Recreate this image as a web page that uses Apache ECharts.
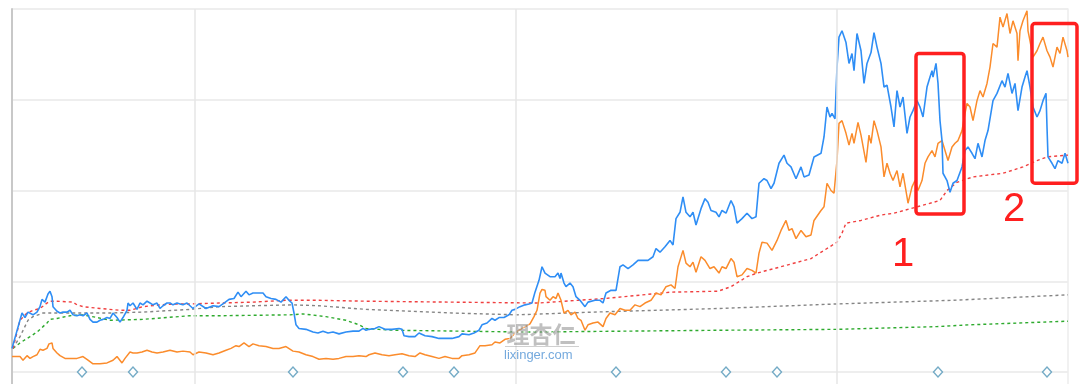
<!DOCTYPE html>
<html><head><meta charset="utf-8">
<script src="https://cdn.jsdelivr.net/npm/echarts@6/dist/echarts.min.js"></script>
<style>html,body{margin:0;padding:0;background:#fff;overflow:hidden;width:1080px;height:384px}#c{width:1080px;height:470px}</style>
</head><body><div id="c"></div>
<script>
// x = trading-day index, y = relative value (gridlines every 100)
const blueSeries = [[0,26],[10,65],[13,60],[16,66],[21,63],[25,66],[28,72],[30,80],[33,77],[35,79],[36,86],[38,89],[40,83],[41,72],[45,67],[48,65],[51,66],[55,66],[58,68],[61,63],[65,62],[68,63],[71,62],[75,65],[78,58],[81,55],[85,55],[88,57],[91,58],[95,60],[98,59],[101,65],[105,60],[108,55],[111,60],[115,68],[116,76],[118,73],[121,76],[125,69],[128,76],[131,74],[135,78],[138,76],[141,74],[145,76],[148,70],[151,73],[155,76],[158,76],[161,74],[165,76],[168,75],[171,74],[175,76],[178,73],[181,70],[187,75],[194,70],[201,73],[207,72],[212,76],[217,80],[222,81],[226,88],[229,83],[234,89],[237,85],[241,87],[246,87],[251,87],[254,83],[259,81],[264,80],[269,77],[274,83],[277,79],[280,76],[282,65],[284,52],[287,48],[294,47],[301,44],[306,43],[311,45],[316,43],[321,44],[327,42],[334,44],[341,45],[347,45],[351,48],[354,46],[357,47],[363,48],[367,50],[373,47],[380,47],[387,48],[390,47],[392,40],[397,39],[403,39],[407,43],[413,40],[420,39],[427,37],[433,37],[440,37],[447,39],[450,42],[457,41],[462,43],[467,46],[470,52],[475,54],[480,59],[483,57],[487,60],[492,60],[497,63],[500,68],[503,69],[508,72],[513,74],[517,75],[520,76],[523,88],[527,101],[530,116],[533,109],[538,105],[543,105],[546,109],[548,103],[549,109],[552,98],[554,94],[558,98],[561,94],[564,83],[568,79],[573,72],[576,77],[583,79],[588,79],[591,76],[594,87],[599,90],[604,90],[608,116],[611,118],[616,114],[621,118],[626,123],[631,123],[636,123],[641,127],[644,136],[648,132],[653,138],[658,145],[661,140],[664,169],[668,176],[671,193],[674,176],[678,171],[681,176],[684,162],[689,180],[693,191],[696,187],[699,178],[704,176],[707,171],[710,178],[714,175],[719,189],[722,182],[725,164],[730,169],[735,175],[740,169],[744,171],[747,208],[752,213],[755,211],[759,202],[762,208],[767,230],[772,239],[775,230],[779,226],[784,213],[789,226],[792,215],[797,217],[802,237],[809,241],[812,259],[815,292],[818,281],[820,285],[823,279],[825,336],[827,369],[830,376],[834,363],[837,340],[840,351],[842,332],[845,373],[849,354],[852,318],[855,340],[859,352],[862,374],[865,358],[869,340],[872,314],[875,316],[879,292],[882,270],[885,310],[888,292],[891,303],[895,263],[898,281],[901,288],[905,299],[908,292],[911,281],[915,314],[918,325],[920,332],[921,325],[924,340],[926,318],[928,277],[930,255],[931,219],[935,211],[938,198],[941,208],[945,211],[950,226],[953,244],[956,248],[960,241],[963,235],[966,252],[970,237],[973,255],[976,266],[981,299],[985,307],[990,321],[993,314],[996,329],[1000,307],[1003,318],[1006,288],[1010,314],[1013,325],[1015,332],[1018,314],[1021,292],[1025,281],[1028,288],[1031,299],[1034,307],[1035,270],[1036,237],[1040,230],[1043,224],[1046,233],[1050,230],[1053,241],[1056,230]];

const orangeSeries = [[0,17],[8,17],[11,13],[15,18],[18,15],[21,17],[25,19],[28,25],[31,24],[35,26],[37,31],[40,32],[41,26],[45,21],[48,18],[53,15],[58,15],[65,15],[71,17],[76,13],[81,9],[88,9],[95,10],[101,13],[105,17],[110,10],[113,15],[118,22],[121,21],[125,21],[130,22],[135,24],[140,22],[145,21],[151,22],[158,24],[165,22],[171,23],[178,22],[181,19],[187,22],[194,21],[201,19],[207,21],[214,24],[219,26],[224,29],[227,28],[232,32],[237,28],[241,31],[247,29],[254,28],[261,26],[267,26],[274,28],[281,23],[287,22],[294,19],[301,17],[307,14],[314,15],[321,14],[327,15],[334,17],[341,17],[347,18],[354,17],[357,19],[363,21],[370,19],[377,18],[383,19],[390,20],[397,18],[403,17],[408,21],[413,19],[420,17],[427,15],[433,17],[440,15],[447,15],[450,18],[457,19],[463,21],[468,29],[473,29],[480,30],[483,33],[488,32],[493,36],[498,37],[503,43],[510,48],[515,51],[518,53],[522,61],[525,68],[528,87],[530,91],[533,90],[534,83],[538,79],[541,83],[544,81],[546,87],[549,79],[552,65],[556,68],[559,63],[563,66],[566,59],[569,57],[573,46],[576,52],[581,54],[586,55],[591,50],[594,59],[598,65],[603,63],[608,70],[613,68],[618,68],[623,74],[628,72],[633,76],[639,79],[644,87],[649,85],[654,94],[659,96],[663,92],[666,116],[671,134],[674,120],[678,116],[681,121],[684,110],[689,127],[693,123],[698,114],[702,116],[707,109],[710,116],[714,114],[719,125],[722,121],[725,105],[730,107],[735,114],[740,112],[744,109],[747,131],[750,143],[755,142],[760,134],[765,145],[769,156],[774,167],[777,156],[780,158],[784,147],[789,156],[794,149],[799,151],[802,167],[809,178],[812,182],[815,208],[819,200],[822,197],[825,233],[827,274],[830,277],[834,263],[837,250],[840,263],[842,252],[846,275],[849,261],[854,231],[857,261],[859,252],[862,277],[865,266],[869,248],[872,215],[875,230],[878,219],[881,211],[885,222],[888,204],[891,219],[895,193],[896,186],[900,204],[903,211],[906,200],[910,211],[913,230],[916,237],[920,244],[923,237],[926,252],[930,255],[933,244],[936,233],[940,248],[943,252],[946,255],[950,266],[953,285],[955,296],[958,292],[961,277],[965,299],[968,310],[971,303],[975,318],[978,336],[981,362],[985,358],[988,391],[991,380],[995,395],[998,373],[1001,387],[1005,373],[1006,343],[1008,376],[1011,387],[1015,398],[1016,376],[1018,365],[1021,347],[1025,354],[1028,362],[1031,369],[1035,354],[1038,347],[1041,336],[1045,358],[1048,351],[1051,369],[1055,354],[1056,347]];

const redDotted = [[1,26],[8,57],[15,65],[21,68],[28,70],[35,76],[38,78],[45,78],[61,77],[65,74],[71,72],[88,70],[108,68],[118,68],[131,72],[148,74],[165,75],[178,75],[207,76],[241,77],[274,79],[307,79],[354,78],[438,77],[526,76],[593,81],[659,88],[706,89],[719,94],[735,105],[745,109],[769,116],[799,125],[812,134],[825,143],[830,153],[834,164],[849,167],[869,173],[882,175],[905,182],[928,189],[935,200],[945,209],[961,215],[991,219],[1011,226],[1025,233],[1035,237],[1056,239]];

const grayDotted = [[1,26],[8,39],[16,57],[21,61],[31,65],[65,65],[98,65],[131,66],[178,69],[207,72],[241,73],[281,74],[307,73],[354,69],[440,65],[505,63],[581,66],[708,70],[825,75],[941,79],[1056,85]];

const greenDotted = [[1,26],[8,32],[18,39],[25,44],[31,50],[35,54],[38,58],[45,59],[58,62],[71,63],[85,60],[98,57],[131,58],[178,62],[207,62],[278,63],[291,64],[314,61],[334,57],[347,52],[354,48],[367,47],[383,46],[515,44],[708,46],[825,47],[925,50],[958,52],[1056,56]];

const eventDays = [70,121,281,391,442,604,714,765,926,1035];
const yearStarts = [183,504,825];

const boxes = [{x0:904,x1:952,y0:174,y1:351},{x0:1020,x1:1065,y0:208,y1:384}];
const labels = [{text:'1',x:891,y:129},{text:'2',x:1002,y:178}];

const chart = echarts.init(document.getElementById('c'));
const lineBase = {type:'line', showSymbol:false, symbol:'none', animation:false, silent:true};

chart.setOption({
  animation:false,
  grid:{left:12,right:12,top:9,bottom:7.25},
  xAxis:{type:'value',min:0,max:1056,axisLine:{show:false},axisTick:{show:false},axisLabel:{show:false},splitLine:{show:false}},
  yAxis:[
    {type:'value',min:-100,max:400,interval:100,
     axisLine:{show:true,lineStyle:{color:'#c8c8c8',width:2}},axisTick:{show:false},axisLabel:{show:false},
     splitLine:{show:true,lineStyle:{color:'#e8e8e8',width:1.5}}},
    {type:'value',position:'right',min:-100,max:400,interval:100,
     axisLine:{show:true,lineStyle:{color:'#ececec',width:1.5}},axisTick:{show:false},axisLabel:{show:false},splitLine:{show:false}}
  ],
  series:[
    Object.assign({}, lineBase, {name:'green', data:greenDotted, z:2,
      lineStyle:{color:'#2eaa2e',width:1.4,type:[3,3]},
      markLine:{silent:true,symbol:['none','none'],label:{show:false},
        lineStyle:{color:'#e6e6e6',width:1.5,type:'solid'},
        data:yearStarts.map(d=>({xAxis:d}))}}),
    Object.assign({}, lineBase, {name:'gray', data:grayDotted, z:2,
      lineStyle:{color:'#858585',width:1.4,type:[3,3]}}),
    Object.assign({}, lineBase, {name:'red', data:redDotted, z:2,
      lineStyle:{color:'#f04040',width:1.4,type:[3,3]}}),
    Object.assign({}, lineBase, {name:'orange', data:orangeSeries, z:3,
      lineStyle:{color:'#fb8c2c',width:1.5}}),
    Object.assign({}, lineBase, {name:'blue', data:blueSeries, z:4,
      lineStyle:{color:'#2f8ef5',width:1.6}}),
    {type:'scatter', name:'events', silent:true, z:5,
      data:eventDays.map(d=>[d,0]), symbol:'diamond', symbolSize:[9,10],
      itemStyle:{color:'#ffffff',borderColor:'#5196b8',borderWidth:1.4}}
  ]
});

const g = [];
boxes.forEach(b=>{
  const p0 = chart.convertToPixel({gridIndex:0},[b.x0,b.y1]);
  const p1 = chart.convertToPixel({gridIndex:0},[b.x1,b.y0]);
  g.push({type:'rect', z:10, silent:true,
    shape:{x:p0[0],y:p0[1],width:p1[0]-p0[0],height:p1[1]-p0[1],r:3},
    style:{fill:'none',stroke:'#ff1f1f',lineWidth:3.5}});
});
labels.forEach(l=>{
  const p = chart.convertToPixel({gridIndex:0},[l.x,l.y]);
  g.push({type:'text', z:10, silent:true, x:p[0], y:p[1],
    style:{text:l.text, fill:'#ff1f1f', fontSize:40, fontFamily:'Liberation Sans, Arial, sans-serif',
      align:'center', verticalAlign:'middle'}});
});
// watermark
g.push({type:'text', z:9, silent:true, left:506, top:322,
  style:{text:'理杏仁', fill:'rgba(140,140,140,0.55)', stroke:'rgba(255,255,255,0.7)', lineWidth:1,
    fontSize:23, fontWeight:'bold', fontFamily:'Noto Sans CJK SC'}});
g.push({type:'rect', z:9, silent:true, shape:{x:505,y:346,width:74,height:1},
  style:{fill:'rgba(150,150,150,0.45)'}});
g.push({type:'text', z:9, silent:true, left:504, top:349,
  style:{text:'lixinger.com', fill:'rgba(70,140,210,0.75)', fontSize:13,
    fontFamily:'Liberation Sans, Arial, sans-serif'}});
chart.setOption({graphic:g});
</script>
</body></html>
